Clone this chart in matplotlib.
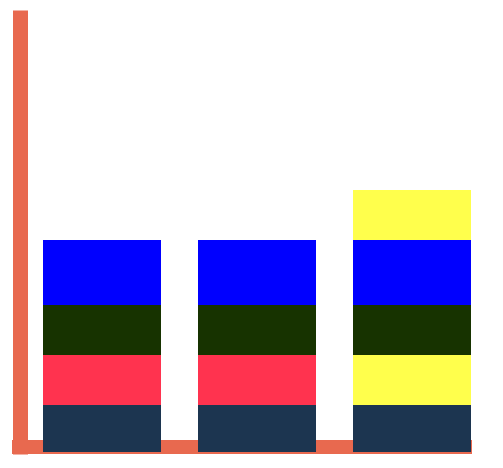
import matplotlib

matplotlib.use("Agg")
import matplotlib.pyplot as plt
import numpy as np

# stacked segments, bottom to top, one value per column
categories = ["A", "B", "C"]
layer1 = [4.7, 4.7, 4.7]
layer2 = [5.0, 5.0, 5.0]
layer3 = [5.0, 5.0, 5.0]
layer4 = [6.5, 6.5, 6.5]
layer5 = [0.0, 0.0, 5.0]

layers = [layer1, layer2, layer3, layer4, layer5]
colors = [
    ["#1c3550"] * 3,
    ["#ff334f", "#ff334f", "#ffff4c"],
    ["#173300"] * 3,
    ["#0000ff"] * 3,
    ["#ffff4c"] * 3,
]

fig = plt.figure(figsize=(5.03, 4.68), dpi=100)
ax = fig.add_axes([19.5 / 503, 16 / 468, 452.5 / 503, 442 / 468])

x = np.arange(len(categories))
bottom = np.zeros(len(categories))
for vals, cols in zip(layers, colors):
    ax.bar(x, vals, width=118 / 155, bottom=bottom, color=cols, zorder=3)
    bottom += np.array(vals)

ax.set_xlim(-82.5 / 155, 2 + 60 / 155)
ax.set_ylim(0, 44.2)
ax.axis("off")

# thick axis lines
axis_c = "#e8694f"
ax.plot([0, 0], [1, -2 / 442], color=axis_c, lw=15 * 0.72,
        solid_capstyle="butt", transform=ax.transAxes, clip_on=False, zorder=1)
ax.plot([-7.5 / 452.5, 1], [5 / 442, 5 / 442], color=axis_c, lw=14 * 0.72,
        solid_capstyle="butt", transform=ax.transAxes, clip_on=False, zorder=1)

fig.savefig("out.png", dpi=100)
plt.close(fig)
